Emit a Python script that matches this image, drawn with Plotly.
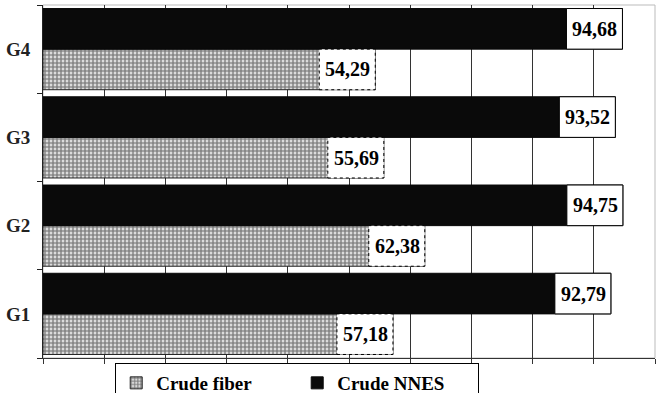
import plotly.graph_objects as go

categories = ["G1", "G2", "G3", "G4"]
crude_fiber = [57.18, 62.38, 55.69, 54.29]
crude_nnes = [92.79, 94.75, 93.52, 94.68]
fiber_labels = ["57,18", "62,38", "55,69", "54,29"]
nnes_labels = ["92,79", "94,75", "93,52", "94,68"]

pos = list(range(len(categories)))
W = 0.46
SERIF = "Liberation Serif"

fig = go.Figure()
fig.add_trace(go.Bar(
    name="Crude fiber", y=pos, x=crude_fiber, orientation="h",
    width=W, offset=-W,
    marker=dict(color="white",
                pattern=dict(shape=".", fgcolor="#111", bgcolor="white", size=4, solidity=0.75),
                line=dict(color="#222", width=1)),
))
fig.add_trace(go.Bar(
    name="Crude NNES", y=pos, x=crude_nnes, orientation="h",
    width=W, offset=0,
    marker=dict(color="#0a0a0a", line=dict(color="#0a0a0a", width=1)),
))

shapes = []
annotations = []
for i, p in enumerate(pos):
    for val, lab, y0, y1, dash in [
        (crude_fiber[i], fiber_labels[i], p - W, p, "dot"),
        (crude_nnes[i], nnes_labels[i], p, p + W, "solid"),
    ]:
        shapes.append(dict(type="rect", xref="x", yref="y", xsizemode="pixel",
                           xanchor=val, x0=-56, x1=0, y0=y0, y1=y1,
                           fillcolor="white", line=dict(color="black", width=1, dash=dash),
                           layer="above"))
        annotations.append(dict(x=val, y=(y0 + y1) / 2, xref="x", yref="y",
                                xanchor="right", xshift=-3, yanchor="middle",
                                text=f"<b>{lab}</b>", showarrow=False,
                                font=dict(family=SERIF, size=20, color="black")))

fig.update_layout(
    width=659, height=393,
    margin=dict(l=43, r=4, t=5, b=35, autoexpand=False),
    paper_bgcolor="white", plot_bgcolor="white",
    barmode="overlay",
    shapes=shapes, annotations=annotations,
    showlegend=True,
    legend=dict(orientation="h", xref="paper", x=0.118, xanchor="left",
                yref="container", y=(393 - 363) / 393, yanchor="top",
                bordercolor="black", borderwidth=1, bgcolor="white",
                font=dict(family=SERIF, size=19, color="black", weight="bold"),
                traceorder="normal", entrywidth=136),
    xaxis=dict(range=[0, 100], dtick=10, showgrid=True, gridcolor="#333", gridwidth=1,
               showticklabels=False, ticks="outside", ticklen=5, tickcolor="#333",
               showline=True, linecolor="#333", zeroline=False),
    yaxis=dict(range=[-0.5, 3.5], tickvals=pos, ticktext=[f"<b>{c}</b>" for c in categories],
               ticks="", showgrid=False, zeroline=False, showline=True, linecolor="#222",
               tickfont=dict(family=SERIF, size=19, color="#222"), ticklabelstandoff=8,
               minor=dict(tickvals=[-0.5, 0.5, 1.5, 2.5, 3.5], ticks="outside", ticklen=5,
                          tickcolor="#222")),
)
fig.add_shape(type="rect", xref="paper", yref="paper", x0=0, x1=1, y0=0, y1=1,
              line=dict(color="#bbb", width=1), layer="below")

fig.write_html("out.html")
